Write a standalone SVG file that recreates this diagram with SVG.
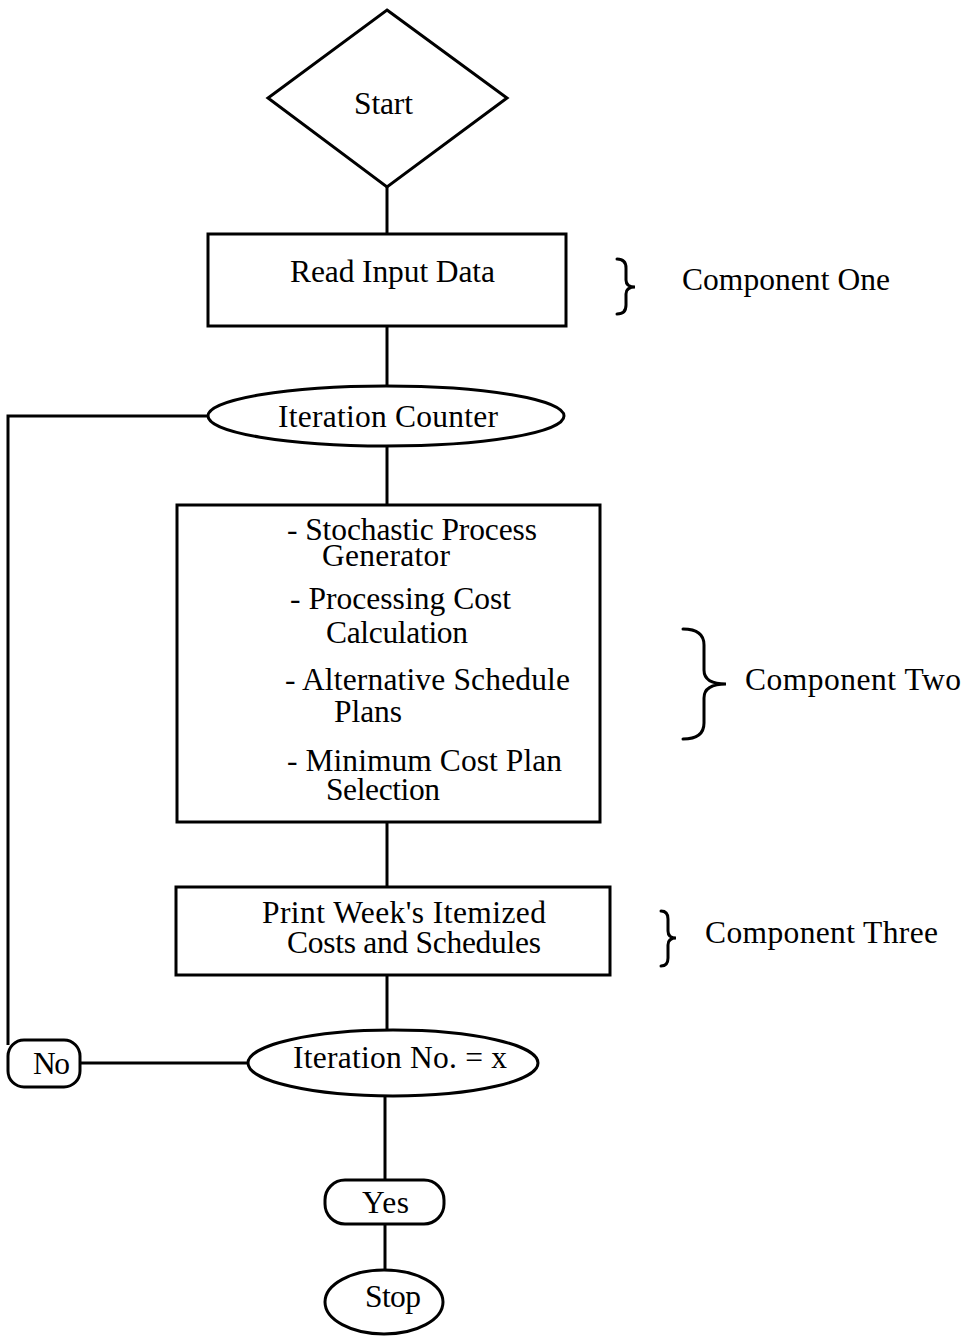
<svg xmlns="http://www.w3.org/2000/svg" width="975" height="1338" viewBox="0 0 975 1338">
<style>
.s{fill:#fff;stroke:#000;stroke-width:3}
.c{fill:none;stroke:#000;stroke-width:3}
.b{fill:none;stroke:#000;stroke-width:3;stroke-linecap:round}
text{font-family:"Liberation Serif","Times New Roman",serif;font-size:31.5px;fill:#000}
</style>
<rect width="975" height="1338" fill="#fff"/>
<g id="connectors">
<path class="c" d="M387,187 V234"/>
<path class="c" d="M387,326 V388"/>
<path class="c" d="M387,446 V505"/>
<path class="c" d="M387,822 V887"/>
<path class="c" d="M387,975 V1030"/>
<path class="c" d="M385,1097 V1180"/>
<path class="c" d="M385,1224 V1270"/>
<path class="c" d="M208,416 H8 V1045"/>
<path class="c" d="M80,1063 H248"/>
</g>
<g id="start">
<polygon class="s" points="387,10 507,98 387,187 268,98"/>
<text x="354" y="114" textLength="59">Start</text>
</g>
<g id="read">
<rect class="s" x="208" y="234" width="358" height="92"/>
<text x="290" y="282" textLength="205">Read Input Data</text>
</g>
<g id="iteration-counter">
<ellipse class="s" cx="386" cy="416" rx="178" ry="30"/>
<text x="278" y="427" textLength="220">Iteration Counter</text>
</g>
<g id="component-two-box">
<rect class="s" x="177" y="505" width="423" height="317"/>
<text><tspan x="287" y="540" textLength="250">- Stochastic Process</tspan><tspan x="322" y="566" textLength="128">Generator</tspan></text>
<text><tspan x="290" y="609" textLength="221">- Processing Cost</tspan><tspan x="326" y="643" textLength="142">Calculation</tspan></text>
<text><tspan x="285" y="690" textLength="285">- Alternative Schedule</tspan><tspan x="334" y="722" textLength="68">Plans</tspan></text>
<text><tspan x="287" y="771" textLength="275">- Minimum Cost Plan</tspan><tspan x="326" y="800" textLength="114">Selection</tspan></text>
</g>
<g id="print">
<rect class="s" x="176" y="887" width="434" height="88"/>
<text><tspan x="262" y="923" textLength="284">Print Week's Itemized</tspan><tspan x="287" y="953" textLength="254">Costs and Schedules</tspan></text>
</g>
<g id="iteration-no">
<ellipse class="s" cx="393" cy="1063" rx="145" ry="33"/>
<text x="293" y="1068" textLength="214">Iteration No. = x</text>
</g>
<g id="no">
<rect class="s" x="8" y="1040" width="72" height="47" rx="16"/>
<text x="33" y="1074" textLength="37">No</text>
</g>
<g id="yes">
<rect class="s" x="325" y="1180" width="119" height="44" rx="20"/>
<text x="362" y="1213" textLength="47">Yes</text>
</g>
<g id="stop">
<ellipse class="s" cx="384" cy="1302" rx="59" ry="32"/>
<text x="365" y="1307" textLength="56">Stop</text>
</g>
<g id="component-one">
<path class="b" d="M617,259 Q626,259 626,268 V280 Q626,287 635,287 Q626,287 626,294 V305 Q626,314 617,314"/>
<text x="682" y="290" textLength="208">Component One</text>
</g>
<g id="component-two">
<path class="b" d="M683,629 Q704,629 704,645 V670 Q704,684 726,684 Q704,684 704,698 V723 Q704,739 683,739"/>
<text x="745" y="690" textLength="216">Component Two</text>
</g>
<g id="component-three">
<path class="b" d="M661,911 Q668,911 668,919 V931 Q668,938 676,938 Q668,938 668,945 V958 Q668,966 661,966"/>
<text x="705" y="943" textLength="233">Component Three</text>
</g>
</svg>
